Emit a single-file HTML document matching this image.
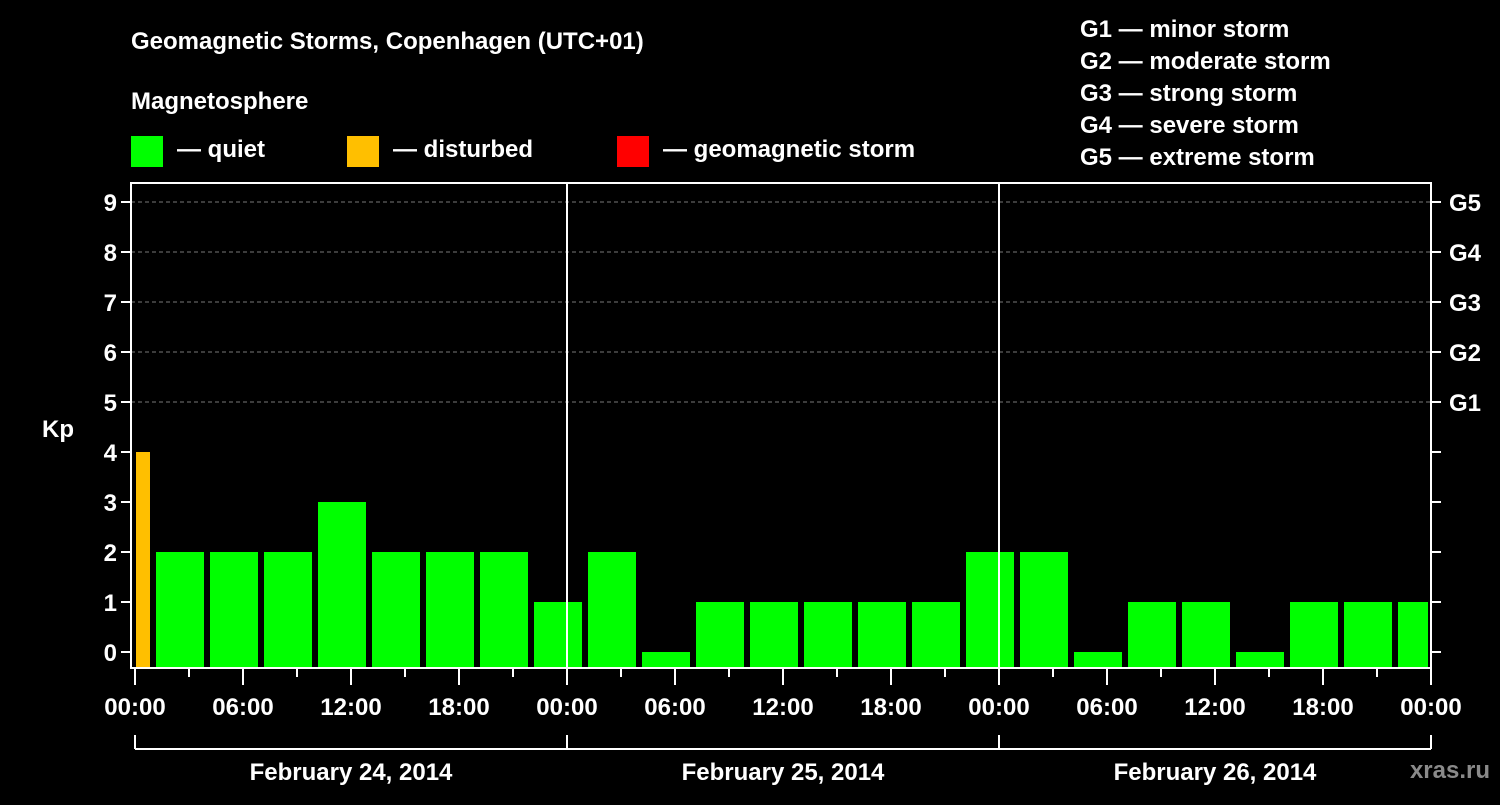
<!DOCTYPE html>
<html><head><meta charset="utf-8"><style>
body{margin:0;background:#000;width:1500px;height:800px;overflow:hidden}
svg text{font-family:"Liberation Sans",sans-serif;font-weight:bold;fill:#fff}
</style></head><body>
<svg id="c" width="1500" height="800">
<text x="131" y="49" font-size="24">Geomagnetic Storms, Copenhagen (UTC+01)</text>
<text x="131" y="109" font-size="24">Magnetosphere</text>
<rect x="131" y="136" width="32" height="31" fill="#00ff00"/>
<text x="177" y="157" font-size="24">— quiet</text>
<rect x="347" y="136" width="32" height="31" fill="#ffbf00"/>
<text x="393" y="157" font-size="24">— disturbed</text>
<rect x="617" y="136" width="32" height="31" fill="#ff0000"/>
<text x="663" y="157" font-size="24">— geomagnetic storm</text>
<g font-size="24">
<text x="1080" y="37">G1 — minor storm</text>
<text x="1080" y="69">G2 — moderate storm</text>
<text x="1080" y="101">G3 — strong storm</text>
<text x="1080" y="133">G4 — severe storm</text>
<text x="1080" y="165">G5 — extreme storm</text>
</g>
<text x="42" y="437" font-size="24">Kp</text>
<text x="1490" y="778" font-size="24" text-anchor="end" fill="#888" style="fill:#8a8a8a">xras.ru</text>
<g id="plot"></g>
</svg>
<script>
const kpValues=[4,2,2,2,3,2,2,2,1,2,0,1,1,1,1,1,2,2,0,1,1,0,1,1,1];
const yTicks=[0,1,2,3,4,5,6,7,8,9];
const gLabels=["G1","G2","G3","G4","G5"];
const xTickLabels=["00:00","06:00","12:00","18:00","00:00","06:00","12:00","18:00","00:00","06:00","12:00","18:00","00:00"];
const dayLabels=["February 24, 2014","February 25, 2014","February 26, 2014"];
const NS="http://www.w3.org/2000/svg";
const g=document.getElementById('plot');
const L=131,R=1431,T=183,B=668,X0=135,PXH=18;
const xs=h=>X0+h*PXH, ys=v=>652-v*50;
function mk(t,a){const e=document.createElementNS(NS,t);for(const k in a)e.setAttribute(k,a[k]);g.appendChild(e);return e;}
// bars: first 00-01, then 3h bins starting 01:00, last clipped at 24h*3
kpValues.forEach((v,i)=>{
  let h0,h1;
  if(i===0){h0=0;h1=1;}else{h0=1+(i-1)*3;h1=Math.min(h0+3,72);}
  const x0=xs(h0)+(i===0?1:3), x1=xs(h1)-(h1===72?3:3);
  const col=v>=5?'#ff0000':(v>=4?'#ffbf00':'#00ff00');
  const r=mk('rect',{x:x0,y:ys(v),width:x1-x0,height:B-ys(v),fill:col});
  
  
});
// gridlines
yTicks.filter(v=>v>=5).forEach(v=>{
  const l=mk('line',{x1:L,x2:R,y1:ys(v),y2:ys(v),stroke:'#777','stroke-dasharray':'4,3','stroke-width':1});
  
  
});
// day separators
[24,48].forEach(h=>{
  const l=mk('line',{x1:xs(h),x2:xs(h),y1:T,y2:B,stroke:'#fff','stroke-width':2});
  
  
});
const fr=mk('rect',{x:L,y:T,width:R-L,height:B-T,fill:'none',stroke:'#fff','stroke-width':2});


yTicks.forEach(v=>{
  mk('line',{x1:L-10,x2:L,y1:ys(v),y2:ys(v),stroke:'#fff','stroke-width':2});
  mk('line',{x1:R,x2:R+10,y1:ys(v),y2:ys(v),stroke:'#fff','stroke-width':2});
  const t=mk('text',{x:L-14,y:ys(v)+9,'text-anchor':'end','font-size':24});
  t.textContent=v;
  
  
});
gLabels.forEach((s,i)=>{
  const t=mk('text',{x:R+18,y:ys(5+i)+9,'font-size':24});
  t.textContent=s;
  
  
});
for(let h=0;h<=72;h+=3){
  const major=h%6===0;
  mk('line',{x1:xs(h),x2:xs(h),y1:B,y2:B+(major?17:9),stroke:'#fff','stroke-width':2});
}
xTickLabels.forEach((s,i)=>{
  const t=mk('text',{x:xs(i*6),y:715,'text-anchor':'middle','font-size':24});
  t.textContent=s;
  
  
});
mk('line',{x1:xs(0),x2:xs(72),y1:749,y2:749,stroke:'#fff','stroke-width':2});
[0,24,48,72].forEach(h=>mk('line',{x1:xs(h),x2:xs(h),y1:735,y2:749,stroke:'#fff','stroke-width':2}));
dayLabels.forEach((s,i)=>{
  const t=mk('text',{x:xs(i*24+12),y:780,'text-anchor':'middle','font-size':24});
  t.textContent=s;
  
  
});
</script>
</body></html>
